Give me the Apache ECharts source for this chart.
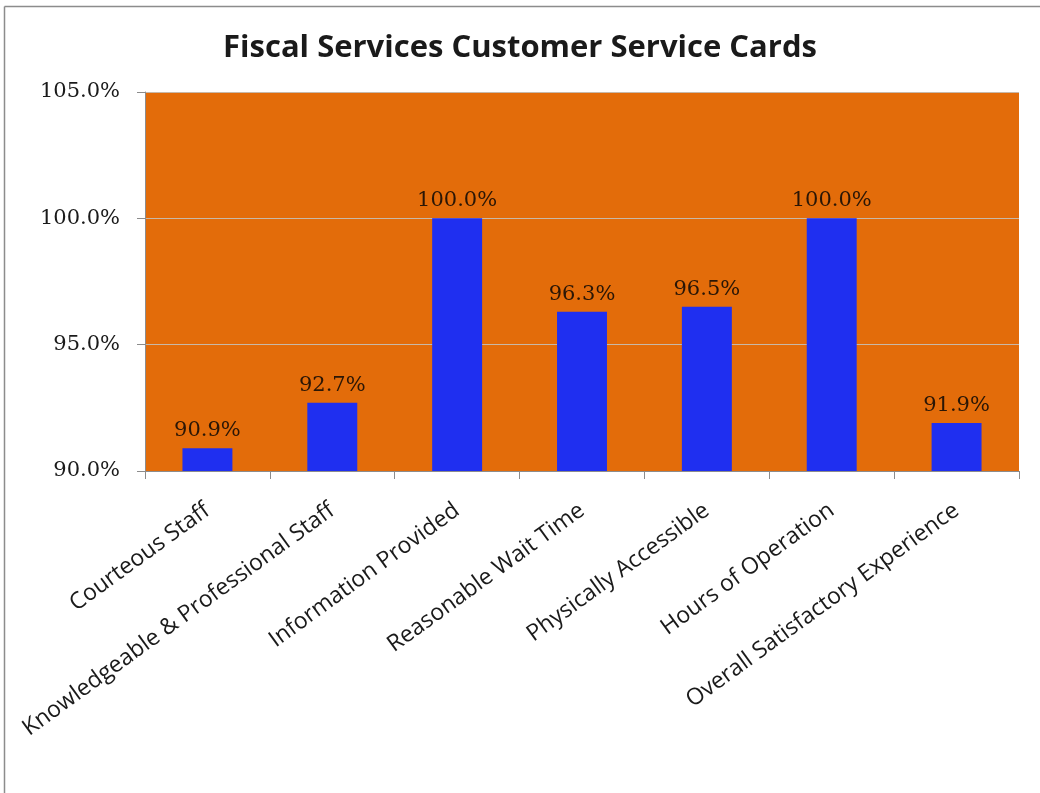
<!DOCTYPE html>
<html>
<head>
<meta charset="utf-8">
<style>
  html, body { margin: 0; padding: 0; background: #ffffff; }
  #chart { width: 1040px; height: 793px; }
</style>
<script src="https://cdn.jsdelivr.net/npm/echarts@6/dist/echarts.min.js"></script>
</head>
<body>
<div id="chart"></div>
<script>
// Survey categories and satisfaction rates (%)
const categories = [
  'Courteous Staff',
  'Knowledgeable & Professional Staff',
  'Information Provided',
  'Reasonable Wait Time',
  'Physically Accessible',
  'Hours of Operation',
  'Overall Satisfactory Experience'
];
const satisfaction = [90.9, 92.7, 100.0, 96.3, 96.5, 100.0, 91.9];
const yTicks = [90, 95, 100, 105];

const chart = echarts.init(document.getElementById('chart'), null, { renderer: 'canvas' });

chart.setOption({
  animation: false,
  backgroundColor: '#ffffff',
  title: {
    text: 'Fiscal Services Customer Service Cards',
    left: 'center',
    top: 28,
    textStyle: {
      fontFamily: 'Open Sans',
      fontWeight: 'bold',
      fontSize: 31,
      color: '#1a1a1a'
    }
  },
  graphic: [
    // outer frame (left and top edges)
    { type: 'line', shape: { x1: 4.5, y1: 6.5, x2: 1040, y2: 6.5 }, style: { stroke: '#8c8c8c', lineWidth: 1.5 } },
    { type: 'line', shape: { x1: 4.5, y1: 6.5, x2: 4.5, y2: 793 }, style: { stroke: '#8c8c8c', lineWidth: 1.5 } }
  ],
  grid: {
    left: 145,
    right: 21,
    top: 92,
    bottom: 322,
    show: true,
    backgroundColor: '#e36c0a',
    borderWidth: 0
  },
  xAxis: {
    type: 'category',
    data: categories,
    axisLine: { show: true, lineStyle: { color: '#8c8c8c', width: 1 } },
    axisTick: { show: true, alignWithLabel: false, length: 8, lineStyle: { color: '#8c8c8c' } },
    axisLabel: {
      interval: 0,
      rotate: 36,
      margin: 37,
      fontFamily: 'Open Sans',
      fontSize: 23,
      color: '#1a1a1a'
    }
  },
  yAxis: {
    type: 'value',
    min: 90,
    max: 105,
    interval: 5,
    axisLine: { show: true, lineStyle: { color: '#8c8c8c', width: 1 } },
    axisTick: { show: true, length: 8, lineStyle: { color: '#8c8c8c' } },
    splitLine: { show: true, lineStyle: { color: '#c8b8a8', width: 1 } },
    axisLabel: {
      margin: 25,
      fontFamily: 'DejaVu Serif',
      fontSize: 21,
      color: '#1a1a1a',
      formatter: v => yTicks.includes(v) ? v.toFixed(1) + '%' : ''
    }
  },
  series: [{
    type: 'bar',
    data: satisfaction,
    barWidth: '40%',
    itemStyle: { color: '#1f2ff0' },
    label: {
      show: true,
      position: 'top',
      distance: 7,
      fontFamily: 'DejaVu Serif',
      fontSize: 21,
      color: '#2a1606',
      formatter: p => p.value.toFixed(1) + '%'
    }
  }]
});
</script>
</body>
</html>
